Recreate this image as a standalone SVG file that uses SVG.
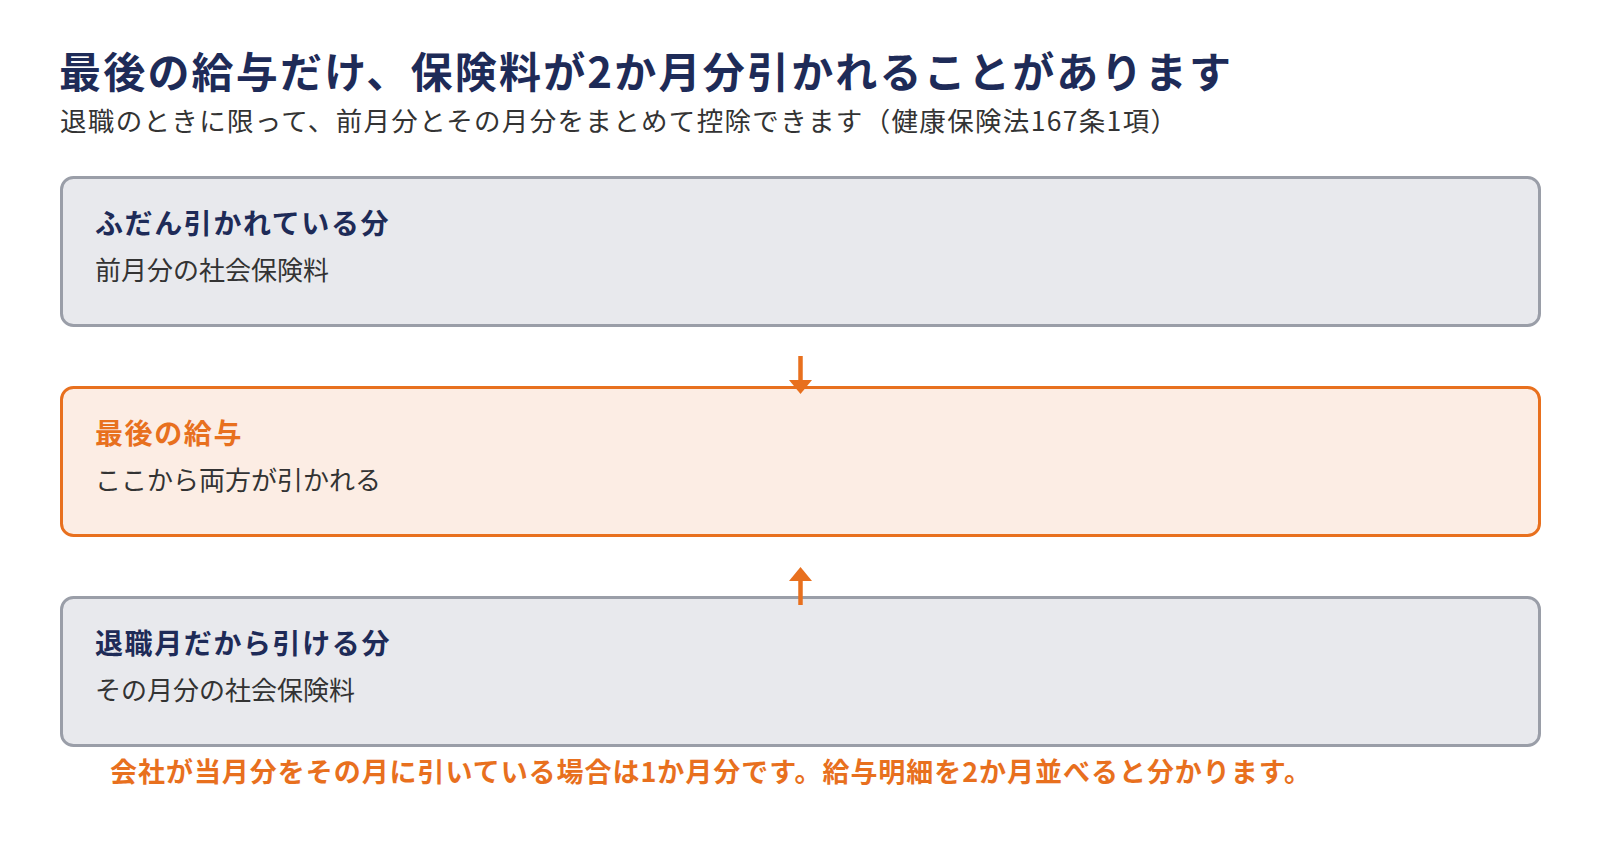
<svg xmlns="http://www.w3.org/2000/svg" width="1600" height="841" viewBox="0 0 1600 841">
  <style>
    text { font-family: "Noto Sans CJK JP", "Noto Sans", sans-serif; }
    .h1 { font-size: 42px; font-weight: 700; fill: #1e2b58; }
    .sub { font-size: 26.5px; font-weight: 400; fill: #333333; }
    .box { fill: #e8e9ed; stroke: #9a9ea8; stroke-width: 3; }
    .box-hl { fill: #fcede4; stroke: #e8701e; stroke-width: 3; }
    .ttl { font-size: 28px; font-weight: 700; fill: #1e2b58; letter-spacing: 1.6px; }
    .ttl-hl { font-size: 28px; font-weight: 700; fill: #e8701e; letter-spacing: 1.6px; }
    .desc { font-size: 26px; font-weight: 400; fill: #333333; }
    .note { font-size: 27px; font-weight: 700; fill: #e8701e; }
    .conn { stroke: #e8701e; stroke-width: 4.5; fill: none; }
  </style>
  <defs>
    <marker id="arrow" markerUnits="userSpaceOnUse" markerWidth="14" markerHeight="23" viewBox="0 0 14 23" refX="0" refY="11.5" orient="auto">
      <path d="M0,0 L14,11.5 L0,23 z" fill="#e8701e"/>
    </marker>
  </defs>
  <rect width="1600" height="841" fill="#ffffff"/>
  <g id="header">
    <text class="h1" x="59" y="88" textLength="1172" lengthAdjust="spacing">最後の給与だけ、保険料が2か月分引かれることがあります</text>
    <text class="sub" x="60" y="131" textLength="1117" lengthAdjust="spacing">退職のときに限って、前月分とその月分をまとめて控除できます（健康保険法167条1項）</text>
  </g>
  <g id="node-usual">
    <rect class="box" x="61.5" y="177.5" width="1478" height="148" rx="12"/>
    <text class="ttl" x="95" y="234">ふだん引かれている分</text>
    <text class="desc" x="95" y="280">前月分の社会保険料</text>
  </g>
  <g id="node-last">
    <rect class="box-hl" x="61.5" y="387.5" width="1478" height="148" rx="12"/>
    <text class="ttl-hl" x="95" y="444">最後の給与</text>
    <text class="desc" x="95" y="490">ここから両方が引かれる</text>
  </g>
  <g id="node-retire">
    <rect class="box" x="61.5" y="597.5" width="1478" height="148" rx="12"/>
    <text class="ttl" x="95" y="654">退職月だから引ける分</text>
    <text class="desc" x="95" y="700">その月分の社会保険料</text>
  </g>
  <g id="connectors">
    <line class="conn" x1="800.5" y1="356" x2="800.5" y2="380" marker-end="url(#arrow)"/>
    <line class="conn" x1="800.5" y1="605" x2="800.5" y2="581" marker-end="url(#arrow)"/>
  </g>
  <g id="footnote">
    <text class="note" x="110" y="782" textLength="1201" lengthAdjust="spacing">会社が当月分をその月に引いている場合は1か月分です。給与明細を2か月並べると分かります。</text>
  </g>
</svg>
